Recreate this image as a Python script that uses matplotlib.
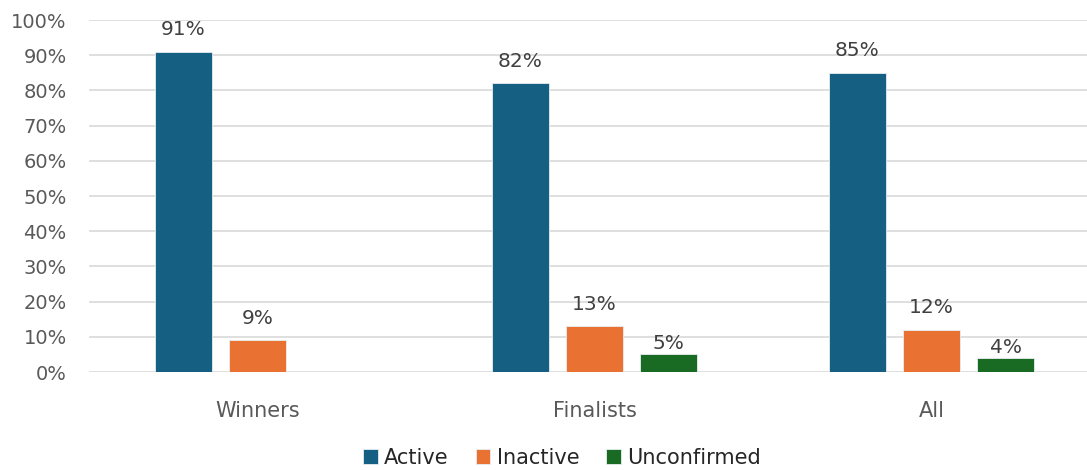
import matplotlib.pyplot as plt
import numpy as np

plt.rcParams['font.family'] = ['DejaVu Sans']

# Share of winners / finalists by status
groups = ["Winners", "Finalists", "All"]
series = ["Active", "Inactive", "Unconfirmed"]
active = [91, 82, 85]
inactive = [9, 13, 12]
unconfirmed = [0, 5, 4]
labels_active = ["91%", "82%", "85%"]
labels_inactive = ["9%", "13%", "12%"]
labels_unconfirmed = ["", "5%", "4%"]

colors = ["#156082", "#E97132", "#196B24"]
text_color = "#595959"

fig = plt.figure(figsize=(10.87, 4.70), dpi=100)
W, H = 1087, 470
left_px, right_px = 89, 1087
bottom_px, top_px = 372, 20
ax = fig.add_axes([left_px / W, (H - bottom_px) / H,
                   (right_px - left_px) / W, (bottom_px - top_px) / H])

x = np.arange(len(groups))
step = 0.22
width = 0.17
values = [active, inactive, unconfirmed]
labels = [labels_active, labels_inactive, labels_unconfirmed]
gaps = [9, 9, 1]

for i, (vals, lab) in enumerate(zip(values, labels)):
    pos = x + (i - 1) * step
    bars = ax.bar(pos, vals, width, color=colors[i], edgecolor="#e8eef2",
                  linewidth=0.6, label=series[i], zorder=3)
    for b, t in zip(bars, lab):
        if not t:
            continue
        ax.annotate(t, (b.get_x() + b.get_width() / 2, b.get_height()),
                    xytext=(0, gaps[i]), textcoords="offset points",
                    ha="center", va="bottom", fontsize=14.5, color="#404040")

# plot area runs past the right edge of the image
span = 3 * 337 / (right_px - left_px)
ax.set_xlim(-0.5, -0.5 + 3 / span)
ax.set_ylim(0, 100)
ax.set_yticks(range(0, 101, 10))
ax.set_yticklabels([f"{v}%" for v in range(0, 101, 10)])
ax.set_xticks(x)
ax.set_xticklabels(groups)
ax.tick_params(axis="both", length=0, labelsize=14, colors=text_color)
ax.tick_params(axis="x", pad=21, labelsize=15)
ax.tick_params(axis="y", pad=16)
ax.grid(axis="y", color="#d9d9d9", linewidth=1.2, zorder=0)
for s in ax.spines.values():
    s.set_visible(False)

fig.legend(loc="center", bbox_to_anchor=(562 / W, 1 - 458 / H), ncol=3,
           frameon=False, fontsize=15, handlelength=0.7, handleheight=0.7,
           handletextpad=0.3, columnspacing=1.3, labelcolor="#262626")

fig.savefig("out.png", dpi=100)
